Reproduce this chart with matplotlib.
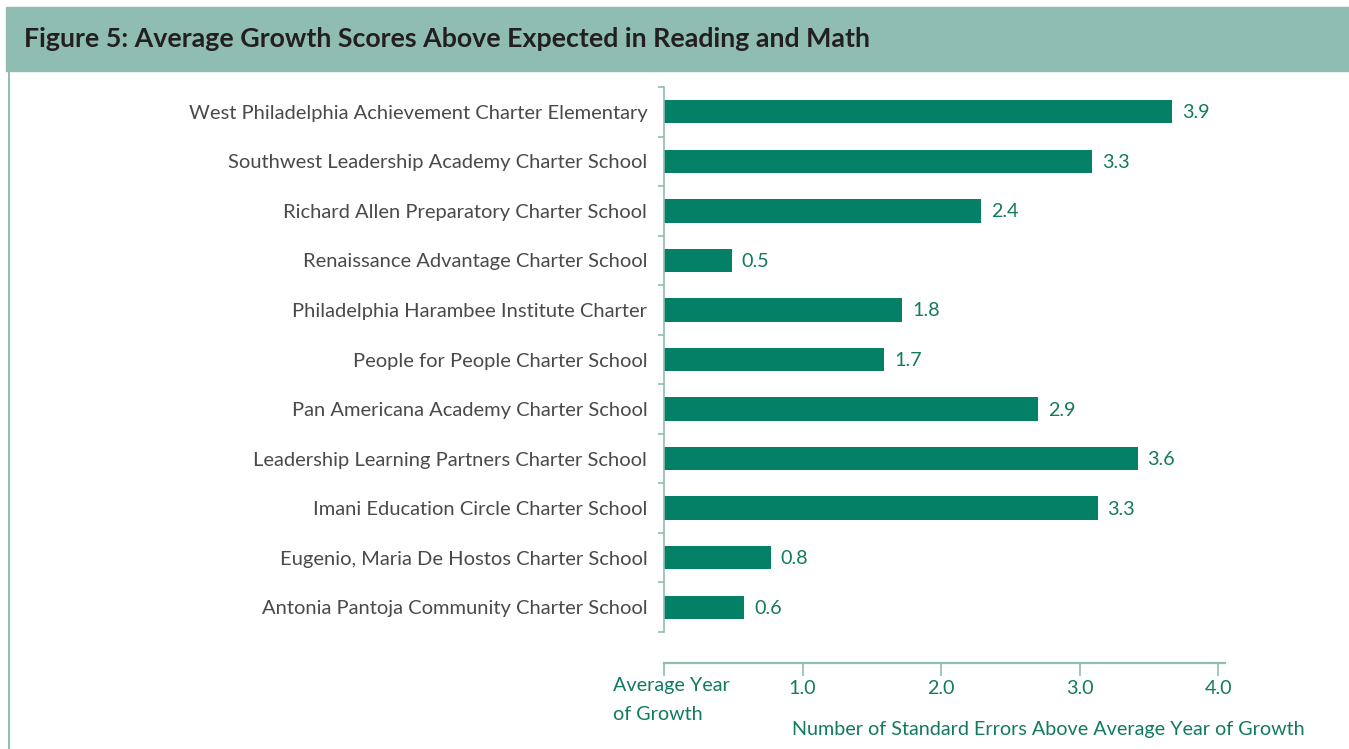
import matplotlib
matplotlib.use("Agg")
import matplotlib.pyplot as plt
from matplotlib.patches import Rectangle
from matplotlib.lines import Line2D
from matplotlib.ticker import FixedLocator

# schools, top to bottom as in the figure
schools = [
    "West Philadelphia Achievement Charter Elementary",
    "Southwest Leadership Academy Charter School",
    "Richard Allen Preparatory Charter School",
    "Renaissance Advantage Charter School",
    "Philadelphia Harambee Institute Charter",
    "People for People Charter School",
    "Pan Americana Academy Charter School",
    "Leadership Learning Partners Charter School",
    "Imani Education Circle Charter School",
    "Eugenio, Maria De Hostos Charter School",
    "Antonia Pantoja Community Charter School",
]
# printed value labels
score_labels = ["3.9", "3.3", "2.4", "0.5", "1.8", "1.7", "2.9", "3.6", "3.3", "0.8", "0.6"]
# bar lengths as drawn in the original (read against the axis)
bar_lengths = [3.67, 3.09, 2.29, 0.49, 1.72, 1.59, 2.70, 3.42, 3.13, 0.77, 0.58]

x_ticks = [0, 1, 2, 3, 4]
x_tick_labels = ["", "1.0", "2.0", "3.0", "4.0"]

BAR = "#038066"
LIGHT = "#8FBDB1"
GREEN_TXT = "#127A5F"
GRAY_TXT = "#4A4A4A"
FS = 14.2

plt.rcParams["font.family"] = ["Lato", "DejaVu Sans"]

fig = plt.figure(figsize=(13.49, 7.49), dpi=100)

# header band and left border
fig.patches.append(Rectangle((6 / 1349, 1 - 71 / 749), 1 - 6 / 1349, 64 / 749,
                             transform=fig.transFigure, color=LIGHT, zorder=0))
fig.lines.append(Line2D([8.5 / 1349, 8.5 / 1349], [0, 1 - 71 / 749],
                        transform=fig.transFigure, color=LIGHT, lw=1.4))
fig.text(24 / 1349, 1 - 39 / 749,
         "Figure 5: Average Growth Scores Above Expected in Reading and Math",
         fontsize=19.3, fontweight="bold", color="#231F20", va="center", ha="left")

ax = fig.add_axes([664 / 1349, 117 / 749, 561 / 1349, 545 / 749])
# move the bottom spine first: it resets the tick objects
ax.spines["bottom"].set_position(("outward", 22))
for side in ["top", "right"]:
    ax.spines[side].set_visible(False)
ax.spines["left"].set_color(LIGHT)
ax.spines["left"].set_linewidth(1.2)
ax.spines["bottom"].set_color(LIGHT)
ax.spines["bottom"].set_linewidth(1.6)

y = list(range(len(schools)))
ax.barh(y, bar_lengths, height=0.47, color=BAR, zorder=2)
for yi, length, lab in zip(y, bar_lengths, score_labels):
    ax.text(length + 0.07, yi + 0.02, lab, va="center", ha="left",
            fontsize=FS, color=GREEN_TXT)

ax.set_ylim(len(schools) - 0.5, -0.5)
ax.set_xlim(0, 4.05)

ax.set_yticks(y)
ax.set_yticklabels(schools)
ax.tick_params(axis="y", length=0, pad=12, labelsize=14.5, labelcolor=GRAY_TXT)
ax.yaxis.set_minor_locator(FixedLocator([i - 0.5 for i in range(len(schools) + 1)]))
ax.tick_params(axis="y", which="minor", length=4, width=1.2, color=LIGHT, direction="out")

ax.set_xticks(x_ticks)
ax.set_xticklabels(x_tick_labels)
ax.tick_params(axis="x", length=9.4, width=1.2, color=LIGHT, pad=3.5,
               labelsize=FS, labelcolor=GREEN_TXT)

fig.text(613 / 1349, 1 - 686 / 749, "Average Year", fontsize=FS, color=GREEN_TXT,
         ha="left", va="center")
fig.text(613 / 1349, 1 - 715 / 749, "of Growth", fontsize=FS, color=GREEN_TXT,
         ha="left", va="center")
fig.text(1048 / 1349, 1 - 729 / 749,
         "Number of Standard Errors Above Average Year of Growth",
         fontsize=FS, color=GREEN_TXT, ha="center", va="center")

fig.savefig("out.png", dpi=100)
